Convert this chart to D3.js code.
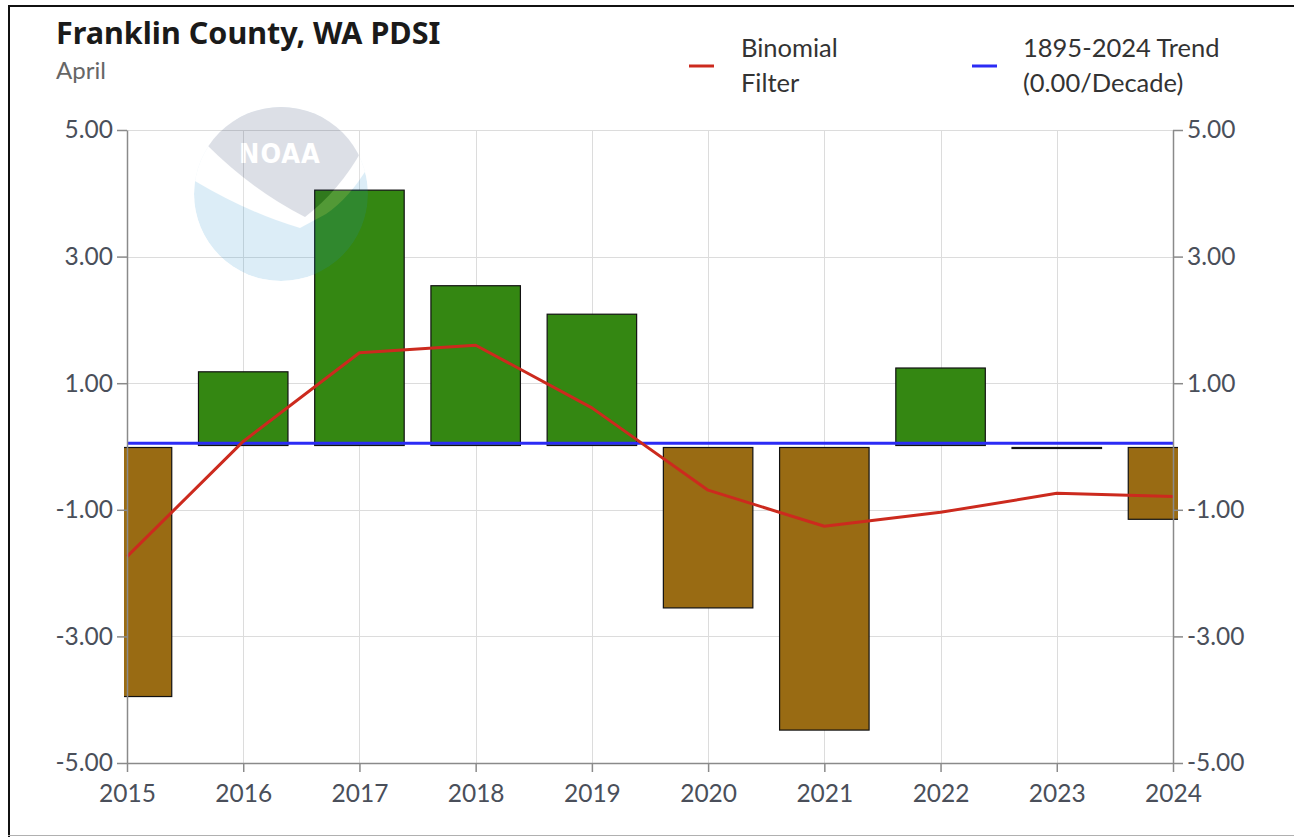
<!DOCTYPE html>
<html>
<head>
<meta charset="utf-8">
<script src="https://cdn.jsdelivr.net/npm/d3@7"></script>
<style>
  html, body { margin: 0; padding: 0; background: #fff; }
  svg { display: block; font-family: Lato, "Noto Sans", sans-serif; }
</style>
</head>
<body>
<svg id="chart" width="1294" height="837"></svg>
<script>
// Franklin County, WA — April PDSI, 2015-2024
const years = [2015, 2016, 2017, 2018, 2019, 2020, 2021, 2022, 2023, 2024];
const pdsi = [-3.95, 1.18, 4.05, 2.54, 2.09, -2.55, -4.48, 1.24, -0.02, -1.15];
const binomial = [-1.74, 0.08, 1.48, 1.60, 0.61, -0.69, -1.26, -1.04, -0.74, -0.79];
const trendYears = [2015, 2024];
const trendValues = [0.05, 0.05];
const yTicks = [-5, -3, -1, 1, 3, 5];
const xTicks = years;

const W = 1294, H = 837;
const plot = { left: 127, right: 1173, top: 130, bottom: 763 };

const svg = d3.select("#chart");
svg.append("rect").attr("width", W).attr("height", H).attr("fill", "#fff");

const x = d3.scaleLinear().domain([2015, 2024]).range([plot.left, plot.right]);
const y = d3.scaleLinear().domain([-5, 5]).range([plot.bottom, plot.top]);
const step = x(2016) - x(2015);
const barW = step * 0.77;

// Page frame
svg.append("line").attr("x1", 8).attr("x2", W).attr("y1", 6).attr("y2", 6)
  .attr("stroke", "#111").attr("stroke-width", 2);
svg.append("line").attr("x1", 9).attr("x2", 9).attr("y1", 5).attr("y2", H)
  .attr("stroke", "#111").attr("stroke-width", 2);
svg.append("line").attr("x1", 8).attr("x2", W).attr("y1", 835.5).attr("y2", 835.5)
  .attr("stroke", "#b0b0b0").attr("stroke-width", 1);

// Title block
svg.append("text").attr("x", 56).attr("y", 44)
  .style("font-family", "'Noto Sans', 'Open Sans', sans-serif")
  .style("font-size", "30.5px").style("font-weight", 700).attr("fill", "#1a1a1a")
  .text("Franklin County, WA PDSI");
svg.append("text").attr("x", 56).attr("y", 79)
  .style("font-size", "24px").attr("fill", "#666")
  .text("April");

// Legend
const legend = [
  { color: "#cc2a1e", lines: ["Binomial", "Filter"], lx: 689, tx: 741 },
  { color: "#2b2bf5", lines: ["1895-2024 Trend", "(0.00/Decade)"], lx: 972, tx: 1023 }
];
legend.forEach(d => {
  svg.append("line").attr("x1", d.lx).attr("x2", d.lx + 25).attr("y1", 66).attr("y2", 66)
    .attr("stroke", d.color).attr("stroke-width", 3);
  const t = svg.append("text").attr("x", d.tx).attr("y", 57)
    .style("font-size", "25.5px").attr("fill", "#333");
  d.lines.forEach((s, i) => t.append("tspan").attr("x", d.tx).attr("dy", i ? 35 : 0).text(s));
});

// Grid
const grid = svg.append("g").attr("stroke", "#dcdcdc").attr("stroke-width", 1);
grid.selectAll("line.h").data(yTicks).join("line")
  .attr("x1", plot.left).attr("x2", plot.right)
  .attr("y1", d => Math.round(y(d)) + 0.5).attr("y2", d => Math.round(y(d)) + 0.5);
grid.selectAll("line.v").data(xTicks).join("line")
  .attr("x1", d => Math.round(x(d)) + 0.5).attr("x2", d => Math.round(x(d)) + 0.5)
  .attr("y1", plot.top).attr("y2", plot.bottom);

// Bars
svg.append("clipPath").attr("id", "barclip").append("rect")
  .attr("x", plot.left - 3).attr("y", plot.top - 5)
  .attr("width", plot.right - plot.left + 8).attr("height", plot.bottom - plot.top + 10);
svg.append("g").attr("clip-path", "url(#barclip)")
  .selectAll("rect").data(years.map((yr, i) => ({ yr, v: pdsi[i] }))).join("rect")
  .attr("x", d => x(d.yr) - barW / 2)
  .attr("width", barW)
  .attr("y", d => d.v >= 0 ? y(d.v) : y(0) + 1)
  .attr("height", d => Math.max(1, Math.abs(y(d.v) - y(0)) - 1))
  .attr("fill", d => d.v >= 0 ? "#348712" : "#996b13")
  .attr("stroke", "#111").attr("stroke-width", 1.2);

// Trend line
svg.append("path")
  .datum(trendYears.map((yr, i) => [yr, trendValues[i]]))
  .attr("fill", "none").attr("stroke", "#2b2bf5").attr("stroke-width", 3)
  .attr("d", d3.line().x(d => x(d[0])).y(d => y(d[1])));

// Binomial filter
svg.append("path")
  .datum(years.map((yr, i) => [yr, binomial[i]]))
  .attr("fill", "none").attr("stroke", "#cc2a1e").attr("stroke-width", 3)
  .attr("stroke-linejoin", "round")
  .attr("d", d3.line().x(d => x(d[0])).y(d => y(d[1])));

// Axes
const fmt = v => d3.format(".2f")(v).replace("\u2212", "-");
const axisStyle = g => {
  g.attr("font-family", null).attr("font-size", null);
  g.select(".domain").attr("stroke", "#8a8a8a").attr("stroke-width", 1.5);
  g.selectAll(".tick line").attr("stroke", "#8a8a8a").attr("stroke-width", 1.5);
  g.selectAll(".tick text").attr("fill", "#4a4f5a").style("font-size", "24.5px");
};
svg.append("g").attr("transform", `translate(${plot.left},0)`)
  .call(d3.axisLeft(y).tickValues(yTicks).tickFormat(fmt).tickSize(10).tickSizeOuter(0).tickPadding(4))
  .call(axisStyle);
svg.append("g").attr("transform", `translate(${plot.right},0)`)
  .call(d3.axisRight(y).tickValues(yTicks).tickFormat(fmt).tickSize(10).tickSizeOuter(0).tickPadding(4))
  .call(axisStyle);
svg.append("g").attr("transform", `translate(0,${plot.bottom})`)
  .call(d3.axisBottom(x).tickValues(xTicks).tickFormat(d3.format("d")).tickSize(9).tickSizeOuter(0).tickPadding(13))
  .call(axisStyle);

// NOAA emblem watermark
const logo = svg.append("g").attr("opacity", 0.15);
const cx = 281, cy = 194, r = 87;
logo.append("clipPath").attr("id", "logoclip").append("circle")
  .attr("cx", cx).attr("cy", cy).attr("r", r);
const lg = logo.append("g").attr("clip-path", "url(#logoclip)");
lg.append("circle").attr("cx", cx).attr("cy", cy).attr("r", r).attr("fill", "#1a8fd0");
lg.append("path").attr("fill", "#fff")
  .attr("d", `M185,120 L185,175 Q245,212 300,228 L326,214 Q352,196 372,160 L372,120 Z`);
lg.append("path").attr("fill", "#1d2f5e")
  .attr("d", `M228,100 L207,145 Q252,190 305,217 Q340,190 362,150 L350,100 Z`);
logo.append("text").attr("x", cx - 1).attr("y", 163)
  .attr("text-anchor", "middle")
  .style("font-family", "'DejaVu Sans Condensed', 'DejaVu Sans', sans-serif")
  .style("font-size", "27px").style("font-weight", 700)
  .attr("fill", "#fff").attr("letter-spacing", 1)
  .text("NOAA");
</script>
</body>
</html>
